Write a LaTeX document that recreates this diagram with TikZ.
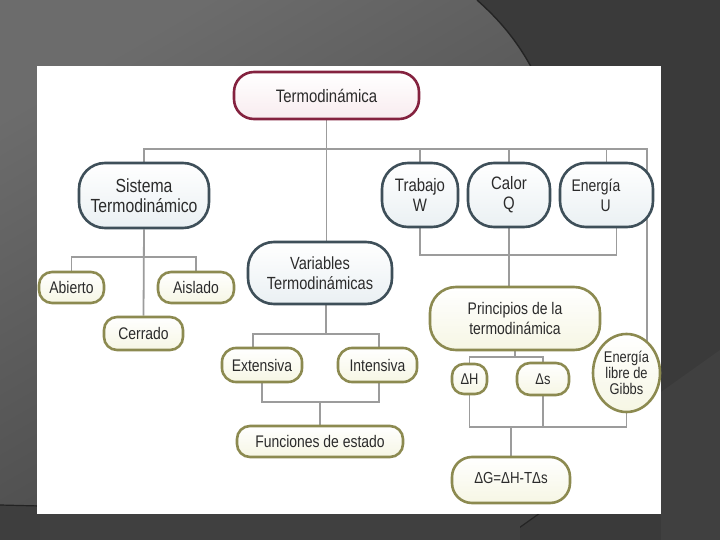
\documentclass[tikz,border=0pt]{standalone}
\usepackage{fontspec}
\setmainfont[FakeStretch=0.83]{Liberation Sans}
\usetikzlibrary{shapes.geometric,backgrounds,calc}
\definecolor{txtc}{HTML}{2B2B2B}
\definecolor{redc}{HTML}{84223F}
\definecolor{redf}{HTML}{F8ECEF}
\definecolor{bluec}{HTML}{3E4F59}
\definecolor{bluef}{HTML}{EAF0F3}
\definecolor{olivec}{HTML}{8C8A50}
\definecolor{olivef}{HTML}{F6F6E4}
\definecolor{linec}{HTML}{9C9C9C}
\tikzset{
  nb/.style={draw, line width=2.6pt, inner sep=0pt, align=center, text=txtc,
    font=\fontsize{16.8}{19}\selectfont},
  redb/.style={nb, draw=redc, top color=white, bottom color=redf},
  blueb/.style={nb, draw=bluec, top color=white, bottom color=bluef},
  oliveb/.style={nb, draw=olivec, top color=white, bottom color=olivef},
  conn/.style={draw=linec, line width=1.8pt},
}
\begin{document}
\begin{tikzpicture}[x=1pt,y=-1pt]
\useasboundingbox (0,0) rectangle (720,540);

% nodes
\node[redb, rounded corners=20pt, minimum width=185pt, minimum height=47pt,
  font=\fontsize{18}{19}\selectfont] (termo) at (326.5,95.5) {Termodinámica};
\node[blueb, rounded corners=26pt, minimum width=130pt, minimum height=65pt,
  font=\fontsize{19}{20}\selectfont] (sis) at (144,195.5) {Sistema\\Termodinámico};
\node[blueb, rounded corners=26pt, minimum width=76pt, minimum height=64pt,
  font=\fontsize{18}{20}\selectfont] (trab) at (420,195) {Trabajo\\W};
\node[blueb, rounded corners=26pt, minimum width=82pt, minimum height=64pt,
  font=\fontsize{18}{20}\selectfont] (calor) at (509,195) {Calor\\Q};
\node[blueb, rounded corners=26pt, minimum width=93pt, minimum height=64pt,
  font=\fontsize{16.8}{20}\selectfont,
  text width=70pt, align=left] (ener) at (606.5,195) {Energía\\\hspace*{29pt}U};
\node[blueb, rounded corners=26pt, minimum width=144pt, minimum height=62pt,
  font=\fontsize{17.6}{20}\selectfont] (vars) at (320,273) {Variables\\Termodinámicas};
\node[oliveb, rounded corners=13pt, minimum width=65pt, minimum height=31pt] (abierto) at (71.5,287.5) {Abierto};
\node[oliveb, rounded corners=13pt, minimum width=76pt, minimum height=31pt] (aislado) at (196,287.5) {Aislado};
\node[oliveb, rounded corners=13pt, minimum width=79pt, minimum height=33pt] (cerrado) at (143.5,333.5) {Cerrado};
\node[oliveb, rounded corners=14pt, minimum width=80pt, minimum height=34pt] (ext) at (262,365) {Extensiva};
\node[oliveb, rounded corners=14pt, minimum width=79pt, minimum height=34pt] (int) at (377.5,365) {Intensiva};
\node[oliveb, rounded corners=13pt, minimum width=166pt, minimum height=31pt] (func) at (320,441.5) {Funciones de estado};
\node[oliveb, rounded corners=26pt, minimum width=170pt, minimum height=63pt,
  font=\fontsize{16.8}{20}\selectfont] (princ) at (515,318.5) {Principios de la\\termodinámica};
\node[oliveb, rounded corners=12pt, minimum width=35pt, minimum height=30pt,
  font=\fontsize{15.5}{15}\selectfont] (dH) at (469.5,379) {ΔH};
\node[oliveb, rounded corners=13pt, minimum width=52pt, minimum height=32pt,
  font=\fontsize{15.5}{15}\selectfont] (ds) at (543,379) {Δs};
\node[oliveb, ellipse, minimum width=67pt, minimum height=78pt,
  font=\fontsize{15.5}{16}\selectfont] (gibbs) at (626.5,373) {Energía\\libre de\\Gibbs};
\node[oliveb, rounded corners=20pt, minimum width=118pt, minimum height=46pt,
  font=\fontsize{16}{16}\selectfont] (dG) at (511,480) {\raisebox{5pt}{ΔG=ΔH-TΔs}};

\coordinate (busR) at (647,149);
\coordinate (sb) at (144,257);
\coordinate (tb) at (420,255);
\coordinate (vb) at (326,334);
\coordinate (fb) at (320,402);
\coordinate (pb) at (515,357);
\coordinate (gb) at (511,427);

\begin{pgfonlayer}{background}
  % page background
  \fill[color={rgb,255:red,58;green,58;blue,58}] (0,0) rectangle (720,540);
  \shade[top color={rgb,255:red,108;green,108;blue,108}, bottom color={rgb,255:red,66;green,66;blue,66}, shading angle=30]
    (0,0) -- (477,0) .. controls (505,25) and (525,50) .. (545,95) -- (560,300) -- (540,513) -- (502,540) -- (0,540) -- cycle;
  \draw[color={rgb,255:red,36;green,36;blue,36}, line width=1.4pt] (477,0) .. controls (505,25) and (525,50) .. (545,95);
  \draw[color={rgb,255:red,36;green,36;blue,36}, line width=1.2pt] (540,513) -- (502,540);
  \fill[color={rgb,255:red,64;green,64;blue,64}] (661,392) -- (720,350) -- (720,540) -- (661,540) -- cycle;
  \fill[color={rgb,255:red,62;green,62;blue,62}] (0,505) rectangle (40,540);
  \fill[color={rgb,255:red,64;green,64;blue,64}] (40,514) rectangle (520,540);
  \draw[color={rgb,255:red,34;green,34;blue,34}, line width=1.2pt] (0,505) -- (40,506);
  % white panel
  \fill[white] (37,66) rectangle (661,514);
  % connectors
  \draw[conn] (termo.south) -- (termo.south |- vars.north);
  \draw[conn] (sis.north) |- (busR) -- (busR |- gibbs.center);
  \draw[conn] (trab.north) -- (trab.north |- busR);
  \draw[conn] (calor.north) -- (calor.north |- busR);
  \draw[conn] (ener.north) -- (ener.north |- busR);
  \draw[conn] (trab.south) -- (tb) -| ([xshift=10pt]ener.south);
  \draw[conn] (calor.south) -- (calor.south |- princ.north);
  \draw[conn] (sis.south) -- (cerrado.north);
  \draw[conn] (abierto.north) |- (sb) -| (aislado.north);
  \draw[conn] (vb |- vars.south) -- (vb);
  \draw[conn] ([xshift=-9pt]ext.north) |- (vb) -| ([xshift=1.5pt]int.north);
  \draw[conn] (ext.south) |- (fb) -| ([xshift=1.5pt]int.south);
  \draw[conn] (fb) -- (func.north);
  \draw[conn] (princ.south) -- (pb);
  \draw[conn] (dH.north) |- (pb) -| (ds.north);
  \draw[conn] (dH.south) |- (gb) -| (gibbs.south);
  \draw[conn] (ds.south) -- (ds.south |- gb);
  \draw[conn] (gb) -- (dG.north);
\end{pgfonlayer}
\end{tikzpicture}
\end{document}
